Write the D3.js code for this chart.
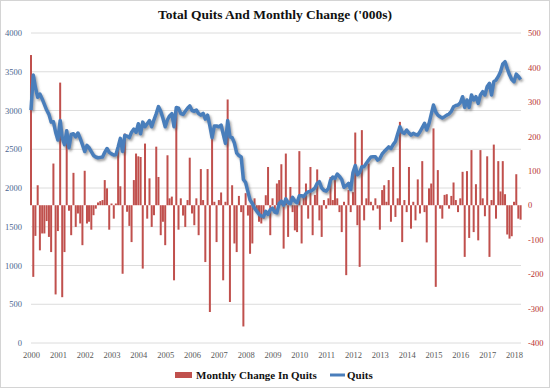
<html>
<head>
<meta charset="utf-8">
<script src="https://cdn.jsdelivr.net/npm/d3@7"></script>
<style>
body { margin: 0; background: #fff; }
text { font-family: "Liberation Serif", "Times New Roman", serif; }
</style>
</head>
<body>
<svg id="chart" width="550" height="388"></svg>
<script>
// Quits level ('000s), monthly from Jan 2000 (left axis)
var quits = [
 3006,3458,3300,3170,3212,3150,3080,3006,2950,2850,
 2855,2720,2620,2870,2650,2560,2740,2520,2690,2700,
 2660,2710,2640,2560,2470,2550,2520,2470,2420,2400,
 2390,2395,2400,2460,2510,2460,2440,2425,2430,2530,
 2640,2470,2680,2670,2650,2720,2760,2720,2830,2700,
 2850,2790,2830,2870,2790,2880,2960,3050,2990,2900,
 2790,2880,2930,2960,2790,3040,3030,2960,2950,2990,
 3030,3060,3000,2990,3006,2960,2940,2963,2890,2940,
 2800,2650,2800,2800,2790,2812,2700,2576,2870,2660,
 2650,2580,2450,2420,2400,2110,2070,1950,1845,1800,
 1740,1700,1660,1640,1630,1700,1660,1720,1740,1690,
 1680,1800,1830,1780,1860,1810,1800,1880,1830,1810,
 1900,1900,1890,1930,1950,1960,1975,2000,2060,2081,
 2000,1970,1960,1995,2100,2140,2124,2180,2150,2110,
 2010,2030,2060,1980,2200,2290,2170,2200,2275,2275,
 2320,2361,2400,2403,2403,2360,2380,2440,2470,2500,
 2530,2510,2560,2600,2700,2790,2720,2705,2748,2710,
 2683,2705,2690,2683,2726,2780,2834,2748,2830,2950,
 3071,2980,2940,2920,2905,2920,2941,2955,2990,3049,
 3065,3071,3100,3178,3040,3135,3040,3200,3135,3178,
 3092,3200,3243,3200,3310,3350,3200,3372,3393,3440,
 3500,3600,3630,3540,3460,3400,3372,3470,3440,3400
];

// Monthly change in quits ('000s) (right axis)
var monthlyChange = [
 436,-208,-89,58,-131,-82,-82,-46,-92,-136,
 121,-259,-75,356,-267,-136,220,-16,-87,94,
 -63,-24,-53,-116,100,-53,-48,-71,-29,-10,
 8,12,15,73,49,-71,5,-39,5,165,
 55,-199,208,-19,-60,-107,73,150,142,140,
 -184,179,-39,78,-63,-29,170,82,-87,-48,
 -116,145,20,25,-218,284,-71,20,-30,-63,
 15,138,-24,-58,20,-87,105,15,-165,105,
 -310,218,10,-107,15,37,-218,10,307,-281,
 58,-111,-136,27,-20,-352,35,-30,-141,-111,
 20,-20,-48,-53,-39,29,111,-87,20,-15,
 63,73,119,-126,150,-92,53,-20,-73,-78,
 157,-111,25,63,-39,111,-87,30,104,-44,
 -92,15,-10,20,82,15,82,20,-20,-78,
 10,-203,44,-20,38,211,-58,-179,218,-44,
 20,121,10,-15,20,-10,-71,44,58,10,
 73,-48,111,-34,20,242,-107,15,-20,111,
 -68,10,-44,75,-24,128,-20,-108,49,63,
 223,-237,102,-10,-39,30,32,-10,27,66,
 15,-20,20,97,-150,99,-95,160,-78,61,
 -102,160,20,-32,142,-150,15,176,-39,128,
 40,128,32,-85,-97,-90,10,90,-39,-42
];

var leftTicks = [0,500,1000,1500,2000,2500,3000,3500,4000];
var rightTicks = [-400,-300,-200,-100,0,100,200,300,400,500];
var yearLabels = ["2000","2001","2002","2003","2004","2005","2006","2007","2008","2009",
                  "2010","2011","2012","2013","2014","2015","2016","2017","2018"];

var months = quits.map(function(d,i) { return new Date(2000, i, 1); });

var plotLeft = 31, plotRight = 521, plotTop = 33, plotBottom = 343;

var x = d3.scaleTime().domain([new Date(2000,0,1), new Date(2018,0,1)]).range([31, 514]);
var yL = d3.scaleLinear().domain([0,4000]).range([plotBottom, plotTop]);
var yR = d3.scaleLinear().domain([-400,500]).range([plotBottom, plotTop]);

var svg = d3.select("#chart");

// frame
svg.append("rect")
  .attr("x",0.5).attr("y",0.5).attr("width",549).attr("height",387)
  .attr("fill","#fff").attr("stroke","#d4d4d4");

var defs = svg.append("defs");
var f = defs.append("filter").attr("id","shadow")
  .attr("x","-5%").attr("y","-5%").attr("width","110%").attr("height","120%");
f.append("feDropShadow").attr("dx",1.5).attr("dy",2).attr("stdDeviation",1.2)
  .attr("flood-color","#555").attr("flood-opacity",0.55);

// title
svg.append("text")
  .attr("x",275).attr("y",19)
  .attr("text-anchor","middle")
  .attr("font-size","13.5px").attr("font-weight","bold").attr("fill","#111")
  .text("Total Quits And Monthly Change ('000s)");

// gridlines
svg.append("g").selectAll("line")
  .data(leftTicks)
  .enter().append("line")
  .attr("x1",plotLeft).attr("x2",plotRight)
  .attr("y1",function(d) { return yL(d); })
  .attr("y2",function(d) { return yL(d); })
  .attr("stroke","#dcdcdc").attr("stroke-width",1);

// bars
var bw = 2;
svg.append("g").selectAll("rect")
  .data(monthlyChange)
  .enter().append("rect")
  .attr("x",function(d,i) { return x(months[i]) - bw/2; })
  .attr("y",function(d) { return yR(Math.max(0,d)); })
  .attr("width",bw)
  .attr("height",function(d) { return Math.abs(yR(d) - yR(0)); })
  .attr("fill","#c0504d");

// quits line
var line = d3.line()
  .x(function(d,i) { return x(months[i]); })
  .y(function(d) { return yL(d); });

svg.append("path")
  .datum(quits)
  .attr("d",line)
  .attr("fill","none")
  .attr("stroke","#4a7ebb")
  .attr("stroke-width",3.5)
  .attr("stroke-linejoin","round")
  .attr("filter","url(#shadow)");

// axes
var xAxis = svg.append("g")
  .attr("transform","translate(0,"+plotBottom+")")
  .call(d3.axisBottom(x)
    .tickValues(yearLabels.map(function(y) { return new Date(+y,0,1); }))
    .tickFormat(d3.timeFormat("%Y"))
    .tickSize(0).tickPadding(9));
xAxis.select(".domain").remove();
xAxis.selectAll("text").attr("font-size","8.5px").attr("fill","#595959")
  .attr("font-family","Liberation Serif");

var yAxisL = svg.append("g")
  .attr("transform","translate("+plotLeft+",0)")
  .call(d3.axisLeft(yL).tickValues(leftTicks).tickFormat(function(d) { return String(d); }).tickSize(0).tickPadding(9));
yAxisL.select(".domain").remove();
yAxisL.selectAll("text").attr("font-size","8.5px").attr("fill","#4a6590")
  .attr("font-family","Liberation Serif");

var yAxisR = svg.append("g")
  .attr("transform","translate(528,0)")
  .call(d3.axisRight(yR).tickValues(rightTicks).tickFormat(function(d) { return String(d); }).tickSize(0).tickPadding(0));
yAxisR.select(".domain").remove();
yAxisR.selectAll("text").attr("font-size","8.5px").attr("fill","#b8312f")
  .attr("font-family","Liberation Serif");

// legend
var lg = svg.append("g");
lg.append("rect").attr("x",175).attr("y",372).attr("width",17).attr("height",6)
  .attr("fill","#c0504d");
lg.append("text").attr("x",196).attr("y",379)
  .attr("font-size","11px").attr("font-weight","bold").attr("fill","#111")
  .text("Monthly Change In Quits");
lg.append("line").attr("x1",330).attr("x2",345).attr("y1",375).attr("y2",375)
  .attr("stroke","#4a7ebb").attr("stroke-width",3);
lg.append("text").attr("x",347).attr("y",379)
  .attr("font-size","11px").attr("font-weight","bold").attr("fill","#111")
  .text("Quits");
</script>
</body>
</html>
